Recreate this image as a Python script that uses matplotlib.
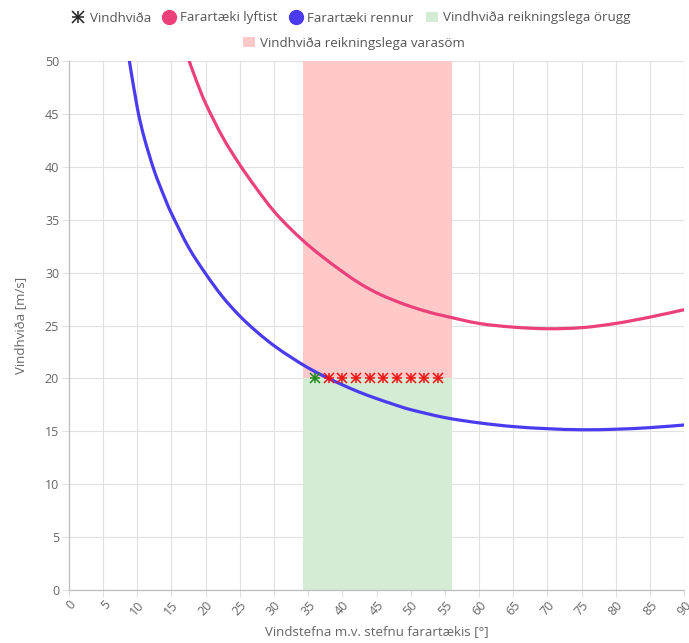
import matplotlib
matplotlib.use("Agg")
import matplotlib.pyplot as plt
from matplotlib.lines import Line2D
from matplotlib.patches import Patch, PathPatch
from matplotlib.path import Path

# --------------------------------
# DATA
# --------------------------------
# Farartæki rennur (blue curve)
slide_angle = [8.85, 10, 11, 12.5, 14, 15, 17.5, 20, 22.5, 25, 27.5, 30, 32.5, 35,
               37.5, 40, 42.5, 45, 47.5, 50, 55, 60, 65, 70, 75, 80, 85, 90]
slide_speed = [50, 45.6, 42.8, 39.6, 37.1, 35.6, 32.4, 29.9, 27.7, 25.9, 24.4, 23.1, 22.0, 21.0,
               20.15, 19.4, 18.7, 18.1, 17.55, 17.05, 16.3, 15.8, 15.45, 15.25, 15.15, 15.2, 15.35, 15.6]

# Farartæki lyftist (pink curve)
lift_angle = [17.6, 18.5, 20, 22.5, 25, 27.5, 30, 32.5, 35, 37.5, 40, 42.5, 45, 47.5,
              50, 52.5, 55, 60, 65, 70, 75, 80, 85, 90]
lift_speed = [50, 48.4, 46.0, 42.8, 40.2, 37.9, 35.8, 34.1, 32.6, 31.3, 30.1, 29.0, 28.1, 27.4,
              26.8, 26.3, 25.9, 25.2, 24.85, 24.7, 24.8, 25.2, 25.8, 26.5]

# Vindhviða points
safe_gust_angle = [36]
safe_gust_speed = [20]
risky_gust_angle = [38, 40, 42, 44, 46, 48, 50, 52, 54]
risky_gust_speed = [20, 20, 20, 20, 20, 20, 20, 20, 20]

# Direction band and gust threshold
band_angle = [34.2, 56]
gust_level = 20

x_ticks = list(range(0, 91, 5))
y_ticks = list(range(0, 51, 5))


# smooth line through the points (Catmull-Rom as cubic Bezier, like a chart tension curve)
def smooth_path(xs, ys):
    pts = list(zip(xs, ys))
    verts = [pts[0]]
    codes = [Path.MOVETO]
    n = len(pts)
    for i in range(n - 1):
        p0 = pts[i - 1] if i > 0 else pts[i]
        p1 = pts[i]
        p2 = pts[i + 1]
        p3 = pts[i + 2] if i + 2 < n else pts[i + 1]
        c1 = (p1[0] + (p2[0] - p0[0]) / 6, p1[1] + (p2[1] - p0[1]) / 6)
        c2 = (p2[0] - (p3[0] - p1[0]) / 6, p2[1] - (p3[1] - p1[1]) / 6)
        verts += [c1, c2, p2]
        codes += [Path.CURVE4] * 3
    return Path(verts, codes)


# --------------------------------
# STYLE
# --------------------------------
plt.rcParams["font.family"] = ["Open Sans", "DejaVu Sans"]
text_col = "#666666"
grid_col = "#e1e1e1"
pink = "#ec407a"
blue = "#4b3bf0"
green_fill = "#d4ecd4"
red_fill = "#ffc9c9"

fig = plt.figure(figsize=(6.89, 6.43), dpi=100)
ax = fig.add_axes([0.100, 0.0824, 0.893, 0.8226])

# shaded bands
ax.fill_between(band_angle, 0, gust_level, color=green_fill, lw=0, zorder=1)
ax.fill_between(band_angle, gust_level, 50, color=red_fill, lw=0, zorder=1)

# curves
for xs, ys, col in [(lift_angle, lift_speed, pink), (slide_angle, slide_speed, blue)]:
    ax.add_patch(PathPatch(smooth_path(xs, ys), facecolor="none", edgecolor=col,
                           lw=2.3, capstyle="round", zorder=3))

# gust markers (asterisk = plus + x)
for mk in ["+", "x"]:
    ax.plot(safe_gust_angle, safe_gust_speed, ls="none", marker=mk, ms=7, mew=1.1,
            color="#1a8a1a", zorder=4)
    ax.plot(risky_gust_angle, risky_gust_speed, ls="none", marker=mk, ms=7, mew=1.1,
            color="#ee1111", zorder=4)

ax.set_xlim(0, 90)
ax.set_ylim(0, 50)
ax.set_xticks(x_ticks)
ax.set_yticks(y_ticks)
ax.grid(True, color=grid_col, lw=0.8, zorder=0)
ax.set_axisbelow(True)
for s in ["top", "right"]:
    ax.spines[s].set_visible(False)
for s in ["left", "bottom"]:
    ax.spines[s].set_color("#bdbdbd")
    ax.spines[s].set_linewidth(0.9)
ax.tick_params(axis="both", length=5, color=grid_col, labelcolor=text_col, labelsize=9)
ax.tick_params(axis="y", pad=2)
ax.tick_params(axis="x", pad=1)
plt.setp(ax.get_xticklabels(), rotation=48, ha="right", rotation_mode="anchor")

ax.set_xlabel("Vindstefna m.v. stefnu farartækis [°]", color=text_col, fontsize=9.5, labelpad=5)
ax.set_ylabel("Vindhviða [m/s]", color=text_col, fontsize=9.5, labelpad=13)

# legend
star_h = (Line2D([], [], ls="none", marker="+", ms=9, mew=1.1, color="#222222"),
          Line2D([], [], ls="none", marker="x", ms=9, mew=1.1, color="#222222"))
pink_h = Line2D([], [], ls="none", marker="o", ms=10, color=pink)
blue_h = Line2D([], [], ls="none", marker="o", ms=10, color=blue)
green_h = Patch(facecolor=green_fill, edgecolor="none")
red_h = Patch(facecolor=red_fill, edgecolor="none")

leg_kw = dict(frameon=False, fontsize=9.6, labelcolor="#555555", handlelength=0.9,
              handletextpad=0.4, columnspacing=0.9, borderaxespad=0)
fig.legend([star_h, pink_h, blue_h, green_h],
           ["Vindhviða", "Farartæki lyftist", "Farartæki rennur",
            "Vindhviða reikningslega örugg"],
           loc="center", bbox_to_anchor=(0.51, 1 - 18 / 643), ncol=4, **leg_kw)
fig.legend([red_h], ["Vindhviða reikningslega varasöm"],
           loc="center", bbox_to_anchor=(0.514, 1 - 43 / 643), ncol=1, **leg_kw)

fig.savefig("out.png", dpi=100)
